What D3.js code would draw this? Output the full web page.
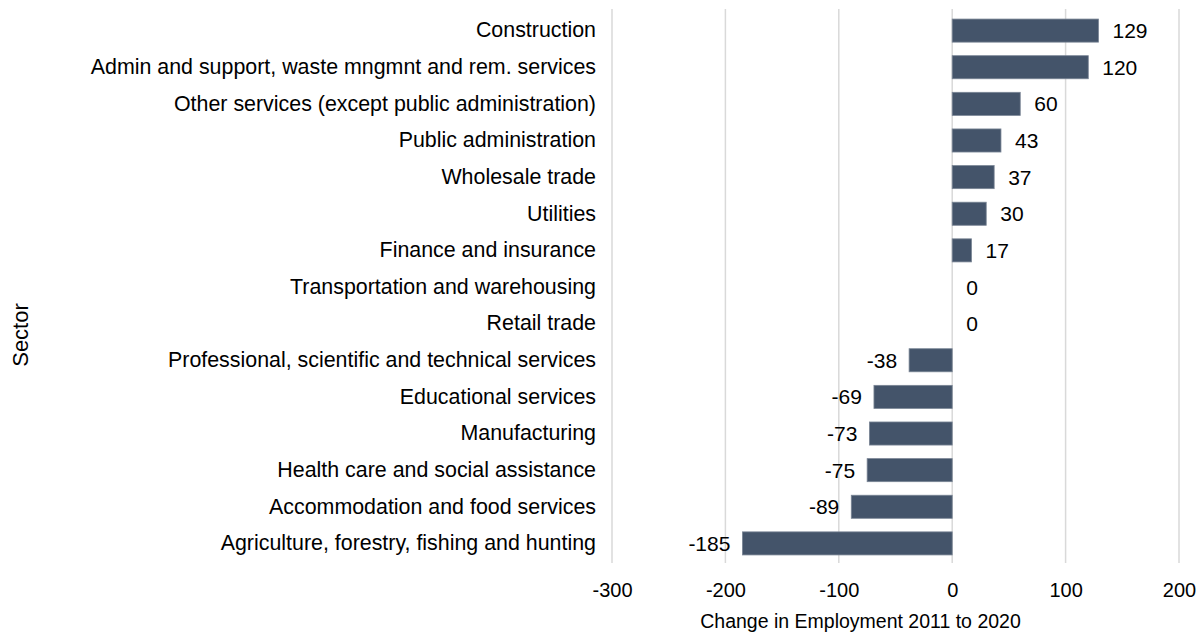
<!DOCTYPE html>
<html>
<head>
<meta charset="utf-8">
<script src="https://cdn.jsdelivr.net/npm/d3@7"></script>
<style>
  body { margin: 0; background: #fff; }
  text { font-family: "Liberation Sans", Arial, sans-serif; fill: #000; }
</style>
</head>
<body>
<svg id="chart" width="1202" height="635"></svg>
<script>
// Sectors, top to bottom
var sectors = [
    "Construction",
    "Admin and support, waste mngmnt and rem. services",
    "Other services (except public administration)",
    "Public administration",
    "Wholesale trade",
    "Utilities",
    "Finance and insurance",
    "Transportation and warehousing",
    "Retail trade",
    "Professional, scientific and technical services",
    "Educational services",
    "Manufacturing",
    "Health care and social assistance",
    "Accommodation and food services",
    "Agriculture, forestry, fishing and hunting"
];
var changes = [129, 120, 60, 43, 37, 30, 17, 0, 0, -38, -69, -73, -75, -89, -185];
var xTicks = [-300, -200, -100, 0, 100, 200];

var data = sectors.map(function(s, i) { return { sector: s, value: changes[i] }; });

// plot area in page pixels
var plotLeft = 612, plotRight = 1179, plotTop = 11, plotBottom = 563;

var svg = d3.select("#chart");

var xScale = d3.scaleLinear().domain([-300, 200]).range([plotLeft, plotRight]);
var yScale = d3.scaleBand().domain(sectors).range([plotTop, plotBottom]).paddingInner(0.37).paddingOuter(0.22);

// Gridlines
svg.append("g")
    .selectAll("line")
    .data(xTicks)
    .enter()
    .append("line")
    .attr("x1", function(d) { return xScale(d); })
    .attr("x2", function(d) { return xScale(d); })
    .attr("y1", plotTop - 2)
    .attr("y2", plotBottom)
    .attr("stroke", "#d9d9d9")
    .attr("stroke-width", 1.5);

// Bars
svg.append("g")
    .selectAll(".bar")
    .data(data)
    .enter()
    .append("rect")
    .attr("class", "bar")
    .attr("x", function(d) { return xScale(Math.min(0, d.value)); })
    .attr("y", function(d) { return yScale(d.sector); })
    .attr("width", function(d) { return Math.abs(xScale(d.value) - xScale(0)); })
    .attr("height", yScale.bandwidth())
    .attr("fill", "#44546a")
    .attr("stroke", function(d) { return d.value === 0 ? "none" : "#7a8595"; })
    .attr("stroke-width", 0.8);

// Value labels
svg.append("g")
    .selectAll("text")
    .data(data)
    .enter()
    .append("text")
    .attr("x", function(d) { return d.value < 0 ? xScale(d.value) - 12 : xScale(d.value) + 14; })
    .attr("y", function(d) { return yScale(d.sector) + yScale.bandwidth() / 2; })
    .attr("dy", "0.36em")
    .attr("text-anchor", function(d) { return d.value < 0 ? "end" : "start"; })
    .style("font-size", "21px")
    .text(function(d) { return String(d.value); });

// Y axis (category labels)
var yAxis = d3.axisLeft(yScale).tickSize(0).tickPadding(0);
var yG = svg.append("g")
    .attr("transform", "translate(596,0)")
    .call(yAxis);
yG.select(".domain").remove();
yG.selectAll("text")
    .style("font-size", "21.4px")
    .style("font-family", "'Liberation Sans', Arial, sans-serif")
    .attr("fill", "#000");

// X axis
var xAxis = d3.axisBottom(xScale).tickValues(xTicks)
    .tickFormat(function(d) { return String(d); })
    .tickSize(0).tickPadding(0);
var xG = svg.append("g")
    .attr("transform", "translate(0,583)")
    .call(xAxis);
xG.select(".domain").remove();
xG.selectAll("text")
    .style("font-size", "20px")
    .style("font-family", "'Liberation Sans', Arial, sans-serif")
    .attr("fill", "#000")
    .attr("dy", "0.71em");

// Axis titles
svg.append("text")
    .attr("x", (plotLeft + plotRight) / 2 - 35)
    .attr("y", 628)
    .attr("text-anchor", "middle")
    .style("font-size", "19.5px")
    .text("Change in Employment 2011 to 2020");

svg.append("text")
    .attr("transform", "translate(28,335) rotate(-90)")
    .attr("text-anchor", "middle")
    .style("font-size", "22px")
    .text("Sector");
</script>
</body>
</html>
